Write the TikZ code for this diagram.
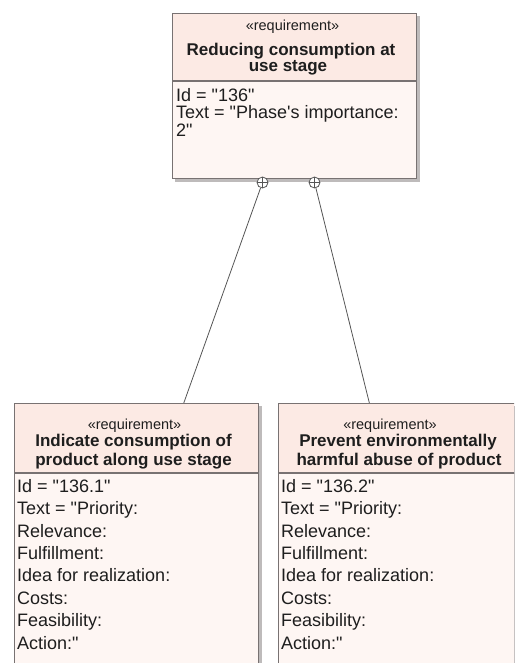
\documentclass[tikz,border=0pt]{standalone}
\usepackage{fontspec}
\setmainfont{Liberation Sans}[Ligatures=TeXOff]
\usetikzlibrary{calc,backgrounds}
\definecolor{titlefill}{RGB}{252,234,228}
\definecolor{bodyfill}{RGB}{254,246,243}
\definecolor{boxline}{RGB}{120,114,114}
\definecolor{shadowc}{RGB}{190,187,187}
\definecolor{linkc}{RGB}{85,85,85}
\definecolor{txt}{RGB}{30,30,30}
\begin{document}
\begin{tikzpicture}[x=1pt,y=-1pt,
  comp/.style={draw=boxline, line width=1pt, inner sep=0pt, anchor=north west},
  titlecomp/.style={comp, fill=titlefill},
  bodycomp/.style={comp, fill=bodyfill},
  stereo/.style={font=\fontsize{14.5}{17}\selectfont, text=txt, anchor=base, inner sep=0pt},
  reqname/.style={font=\fontsize{17}{17}\selectfont\bfseries, text=txt, anchor=base, inner sep=0pt},
  attrs/.style={align=left, text=txt, anchor=north west, inner sep=0pt},
  contain/.style={circle, draw=linkc, line width=0.8pt, fill=white, minimum size=11pt, inner sep=0pt,
    path picture={\draw[linkc, line width=0.7pt] (path picture bounding box.north) -- (path picture bounding box.south)
      (path picture bounding box.west) -- (path picture bounding box.east);}},
  link/.style={draw=linkc, line width=0.8pt},
  shadowbox/.style={fill=shadowc}
]
\useasboundingbox (0,0) rectangle (514,663);
\begin{scope}
\clip (0,0) rectangle (514,663);
% ---------- top requirement ----------
\node[titlecomp, minimum width=244pt, minimum height=67pt] (t0) at (172,13) {};
\node[bodycomp, minimum width=244pt, minimum height=97pt] (b0) at (t0.south west) {};
% ---------- bottom left requirement ----------
\node[titlecomp, minimum width=244pt, minimum height=69pt] (t1) at (14,403) {};
\node[bodycomp, minimum width=244pt, minimum height=260pt] (b1) at (t1.south west) {};
% ---------- bottom right requirement ----------
\node[titlecomp, minimum width=242pt, minimum height=69pt] (t2) at (278,403) {};
\node[bodycomp, minimum width=242pt, minimum height=260pt] (b2) at (t2.south west) {};
% shadows
\begin{scope}[on background layer]
  \fill[shadowbox] ([xshift=3pt,yshift=-3pt]t0.north west) rectangle ([xshift=3pt,yshift=-3pt]b0.south east);
  \fill[shadowbox] ([xshift=3pt,yshift=-3pt]t1.north west) rectangle ([xshift=3pt,yshift=-3pt]b1.south east);
  \fill[shadowbox] ([xshift=3pt,yshift=-3pt]t2.north west) rectangle ([xshift=3pt,yshift=-3pt]b2.south east);
\end{scope}
% ---------- texts ----------
\node[stereo] (s0) at (292.5,31) {«requirement»};
\node[reqname] (n0a) at (291,56) {Reducing consumption at};
\node[reqname] (n0b) at (288,72) {use stage};
\node[attrs, font=\fontsize{18}{17.5}\selectfont] (a0) at (176,88) {Id = "136"\\Text = "Phase's importance:\\2"};

\node[stereo] (s1) at (134.5,429) {«requirement»};
\node[reqname] (n1a) at (133.5,446) {Indicate consumption of};
\node[reqname] (n1b) at (133.5,465) {product along use stage};
\node[attrs, font=\fontsize{18}{22.4}\selectfont] (a1) at (17,479) {Id = "136.1"\\Text = "Priority:\\Relevance:\\Fulfillment:\\Idea for realization:\\Costs:\\Feasibility:\\Action:"};

\node[stereo] (s2) at (390,429) {«requirement»};
\node[reqname] (n2a) at (398,446) {Prevent environmentally};
\node[reqname] (n2b) at (399,465) {harmful abuse of product};
\node[attrs, font=\fontsize{18}{22.4}\selectfont] (a2) at (281,479) {Id = "136.2"\\Text = "Priority:\\Relevance:\\Fulfillment:\\Idea for realization:\\Costs:\\Feasibility:\\Action:"};
% ---------- containment connectors ----------
\node[contain] (c1) at (262.5,182.5) {};
\node[contain] (c2) at (314.5,182.5) {};
\draw[link] (c1) -- ($(t1.north west)!0.693!(t1.north east)$);
\draw[link] (c2) -- ($(t2.north west)!0.376!(t2.north east)$);
\end{scope}
\end{tikzpicture}
\end{document}
